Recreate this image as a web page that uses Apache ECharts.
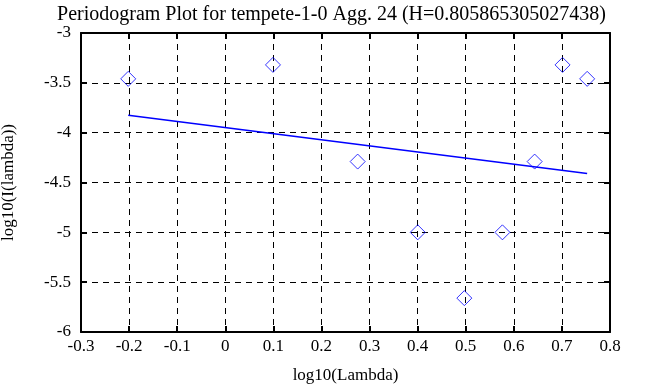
<!DOCTYPE html>
<html><head><meta charset="utf-8">
<script src="https://cdn.jsdelivr.net/npm/echarts@6/dist/echarts.min.js"></script>
<style>html,body{margin:0;padding:0;background:#fff}#c{width:663px;height:387px}</style>
</head><body><div id="c"></div>
<script>
const titleText = 'Periodogram Plot for tempete-1-0 Agg. 24 (H=0.805865305027438)';
const xName = 'log10(Lambda)';
const yName = 'log10(I(lambda))';
const pointX = [-0.2018, 0.0992, 0.2753, 0.4002, 0.4971, 0.5763, 0.6433, 0.7013, 0.7525];
const pointY = [-3.46, -3.32, -4.29, -5.0, -5.66, -5.0, -4.29, -3.32, -3.46];
const lineX = [-0.2018, 0.7525];
const lineY = [-3.826, -4.410];
const xMin = -0.3, xMax = 0.8, xStep = 0.1;
const yMin = -6, yMax = -3, yStep = 0.5;

const font = 'Liberation Serif';
const fmtX = v => { const r = Math.round(v*10)/10; return String(r); };
const fmtY = v => { const r = Math.round(v*10)/10; return String(r); };

const chart = echarts.init(document.getElementById('c'));
const axisCommon = () => ({
  axisLine: {show: true, onZero: false, lineStyle: {color: '#000', width: 2}},
  axisTick: {show: true, inside: true, length: 6, lineStyle: {color: '#000', width: 2}},
});
chart.setOption({
  animation: false,
  title: {text: titleText, left: 'center', top: 0,
    textStyle: {fontFamily: font, fontSize: 20, fontWeight: 'normal', color: '#000'}},
  grid: {left: 81, right: 53, top: 33, bottom: 55, containLabel: false, outerBoundsMode: 'none'},
  xAxis: [
    Object.assign({type: 'value', min: xMin, max: xMax, interval: xStep, position: 'bottom',
      name: xName, nameLocation: 'middle', nameGap: 35,
      nameTextStyle: {fontFamily: font, fontSize: 17, color: '#000'},
      axisLabel: {fontFamily: font, fontSize: 17, color: '#000', margin: 6, formatter: fmtX},
      splitLine: {show: true, lineStyle: {color: '#000', type: [6, 5], width: 1}}}, axisCommon()),
    Object.assign({type: 'value', min: xMin, max: xMax, interval: xStep, position: 'top',
      axisLabel: {show: false}, splitLine: {show: false}}, axisCommon())
  ],
  yAxis: [
    Object.assign({type: 'value', min: yMin, max: yMax, interval: yStep, position: 'left',
      name: yName, nameLocation: 'middle', nameGap: 64, nameRotate: 90,
      nameTextStyle: {fontFamily: font, fontSize: 17, color: '#000'},
      axisLabel: {fontFamily: font, fontSize: 17, color: '#000', margin: 10, formatter: fmtY},
      splitLine: {show: true, lineStyle: {color: '#000', type: [6, 5], width: 1}}}, axisCommon()),
    Object.assign({type: 'value', min: yMin, max: yMax, interval: yStep, position: 'right',
      axisLabel: {show: false}, splitLine: {show: false}}, axisCommon())
  ],
  series: [
    {type: 'scatter', xAxisIndex: 0, yAxisIndex: 0,
      data: pointX.map((x, i) => [x, pointY[i]]),
      symbol: 'diamond', symbolSize: [15, 15],
      itemStyle: {color: 'rgba(0,0,0,0)', borderColor: '#0000ff', borderWidth: 1}},
    {type: 'line', xAxisIndex: 0, yAxisIndex: 0,
      data: lineX.map((x, i) => [x, lineY[i]]),
      showSymbol: false, symbol: 'none',
      lineStyle: {color: '#0000ff', width: 1.5}}
  ]
});
</script></body></html>
